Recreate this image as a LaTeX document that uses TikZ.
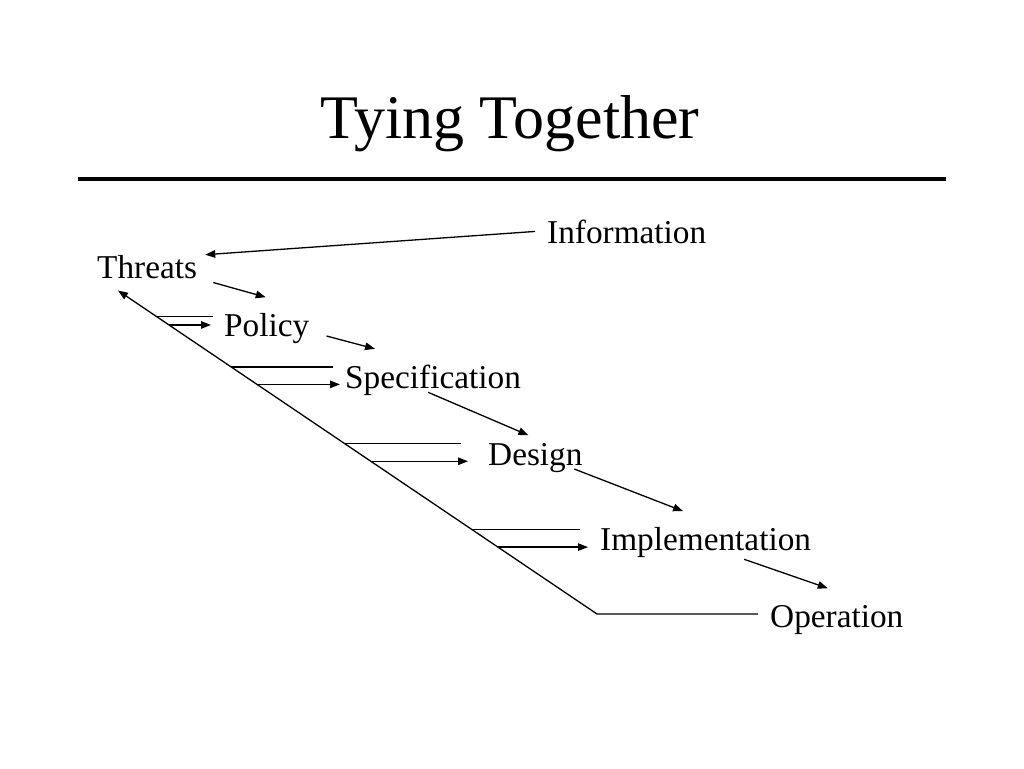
\documentclass[tikz,border=0pt]{standalone}
\usepackage{fontspec}
\setmainfont{Liberation Serif}
\usetikzlibrary{arrows.meta, calc, positioning}

\begin{document}
\begin{tikzpicture}[x=1pt, y=-1pt, >={Triangle[length=10pt,width=7.5pt]},
    stage/.style={anchor=base west, inner sep=0pt, font=\fontsize{33.3}{40}\selectfont},
    link/.style={line width=1.3pt}]
        % Page
        \fill[white] (0,0) rectangle (1024,768);
        \useasboundingbox (0,0) rectangle (1024,768);

        % Title
        \node[anchor=base, inner sep=0pt, font=\fontsize{62}{70}\selectfont] (title) at (510,138) {Tying Together};
        \draw[line width=4pt] (78,179) -- (946,179);

        % Stages
        \node[stage] (info) at (547,243) {Information};
        \node[stage] (thr) at (97,278) {Threats};
        \node[stage] (pol) at (224,336) {Policy};
        \node[stage] (spec) at (345,388) {Specification};
        \node[stage] (des) at (488,465) {Design};
        \node[stage] (impl) at (600,550) {Implementation};
        \node[stage] (oper) at (770,627) {Operation};

        % Forward arrows
        \draw[link, ->] ([xshift=-12pt]info.west) -- ([xshift=8pt]thr.north east);
        \draw[link, ->] ([xshift=16pt, yshift=-4pt]thr.south east) -- ([xshift=-1pt, yshift=15.5pt]pol.north);
        \draw[link, ->] ([xshift=17pt]pol.base east) -- ([xshift=30pt, yshift=15.5pt]spec.north west);
        \draw[link, ->] ([xshift=-5pt, yshift=3pt]spec.south) -- ([xshift=-7pt, yshift=7.5pt]des.north);
        \draw[link, ->] ([xshift=-8.5pt, yshift=-4pt]des.base east) -- ([xshift=-22.5pt, yshift=15.5pt]impl.north);
        \draw[link, ->] ([xshift=38.5pt, yshift=-2pt]impl.south) -- ([xshift=-9pt, yshift=16.5pt]oper.north);

        % Feedback line
        \coordinate (fb) at (597,614);
        \coordinate (ttip) at ([xshift=21pt, yshift=-12pt]thr.south west);
        \draw[link, ->] ($(fb -| oper.west)+(-12,0)$) -- (fb) -- (ttip);

        % Feeds from the feedback line
        \foreach \n/\tu/\du/\tl/\dl in {pol/0.9198/-11/0.8935/-13, spec/0.7633/-12/0.7099/-5,
                                        des/0.5278/-27/0.4722/-20, impl/0.2623/-20/0.2068/-12} {
            \coordinate (\n u) at ($(fb)!\tu!(ttip)$);
            \coordinate (\n l) at ($(fb)!\tl!(ttip)$);
            \draw[link] (\n u) -- ($(\n u -| \n.west)+(\du,0)$);
            \draw[link, ->] (\n l) -- ($(\n l -| \n.west)+(\dl,0)$);
        }
    \end{tikzpicture}
\end{document}
